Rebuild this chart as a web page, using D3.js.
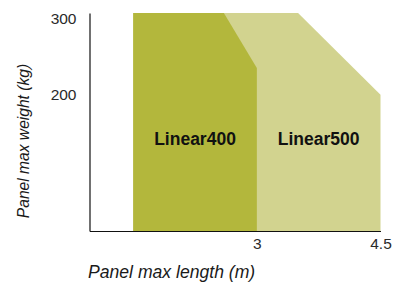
<!DOCTYPE html>
<html>
<head>
<meta charset="utf-8">
<script src="https://cdn.jsdelivr.net/npm/d3@7"></script>
<style>
  body { margin: 0; background: #fff; }
  svg { display: block; font-family: "Liberation Sans", Arial, Helvetica, sans-serif; }
</style>
</head>
<body>
<div id="chart"></div>
<script>
// product envelopes: max panel length (m) vs max weight (kg)
const series = ["Linear500", "Linear400"];
const lengths400 = [1.5, 2.6, 3];
const weights400 = [307, 307, 235];
const lengths500 = [1.5, 3.5, 4.5];
const weights500 = [307, 307, 200];
const xTicks = [3, 4.5];
const yTicks = [200, 300];
const colors = { Linear400: "#b3b73c", Linear500: "#d2d38f" };

let width = 393,
    height = 284;
let svg = d3.select("div#chart").append("svg")
  .attr("width", width)
  .attr("height", height);

let x = d3.scaleLinear().domain([0.97, 4.5]).range([89.5, 380.5]);
let y = d3.scaleLinear().domain([22, 307]).range([231, 13]);

let area = d3.area()
  .x(d => x(d[0]))
  .y0(y(22))
  .y1(d => y(d[1]));

let shapes = {
  Linear400: { pts: d3.zip(lengths400, weights400), label: [2.25, 134] },
  Linear500: { pts: d3.zip(lengths500, weights500), label: [3.75, 134] }
};

// lighter one first, darker sits on top
series.forEach(name => {
  svg.append("path")
    .attr("d", area(shapes[name].pts))
    .attr("fill", colors[name]);
});

svg.selectAll("text.series")
  .data(series)
  .enter().append("text")
  .attr("class", "series")
  .attr("x", d => x(shapes[d].label[0]))
  .attr("y", d => y(shapes[d].label[1]))
  .attr("text-anchor", "middle")
  .style("font-size", "17.5px")
  .style("font-weight", "bold")
  .style("fill", "#111")
  .text(d => d);

// axes
let xAxis = svg.append("g")
  .attr("transform", "translate(0," + y(22) + ")")
  .call(d3.axisBottom(x).tickValues(xTicks).tickSize(0).tickPadding(7).tickFormat(d3.format("")));
let yAxis = svg.append("g")
  .attr("transform", "translate(" + x(0.97) + ",0)")
  .call(d3.axisLeft(y).tickValues(yTicks).tickSize(0).tickPadding(13));

[xAxis, yAxis].forEach(g => {
  g.select(".domain").attr("stroke", "#111").attr("stroke-width", 1.2);
  g.selectAll("text")
    .style("font-size", "15.5px")
    .style("font-family", "'Liberation Sans', Arial, sans-serif")
    .style("fill", "#2a2a2a");
});

svg.append("text")
  .attr("x", 88)
  .attr("y", 277.5)
  .style("font-size", "17.6px")
  .style("font-style", "italic")
  .style("fill", "#1a1a1a")
  .text("Panel max length (m)");

svg.append("text")
  .attr("transform", "translate(29,141) rotate(-90)")
  .attr("text-anchor", "middle")
  .style("font-size", "15.6px")
  .style("font-style", "italic")
  .style("fill", "#1a1a1a")
  .text("Panel max weight (kg)");
</script>
</body>
</html>
